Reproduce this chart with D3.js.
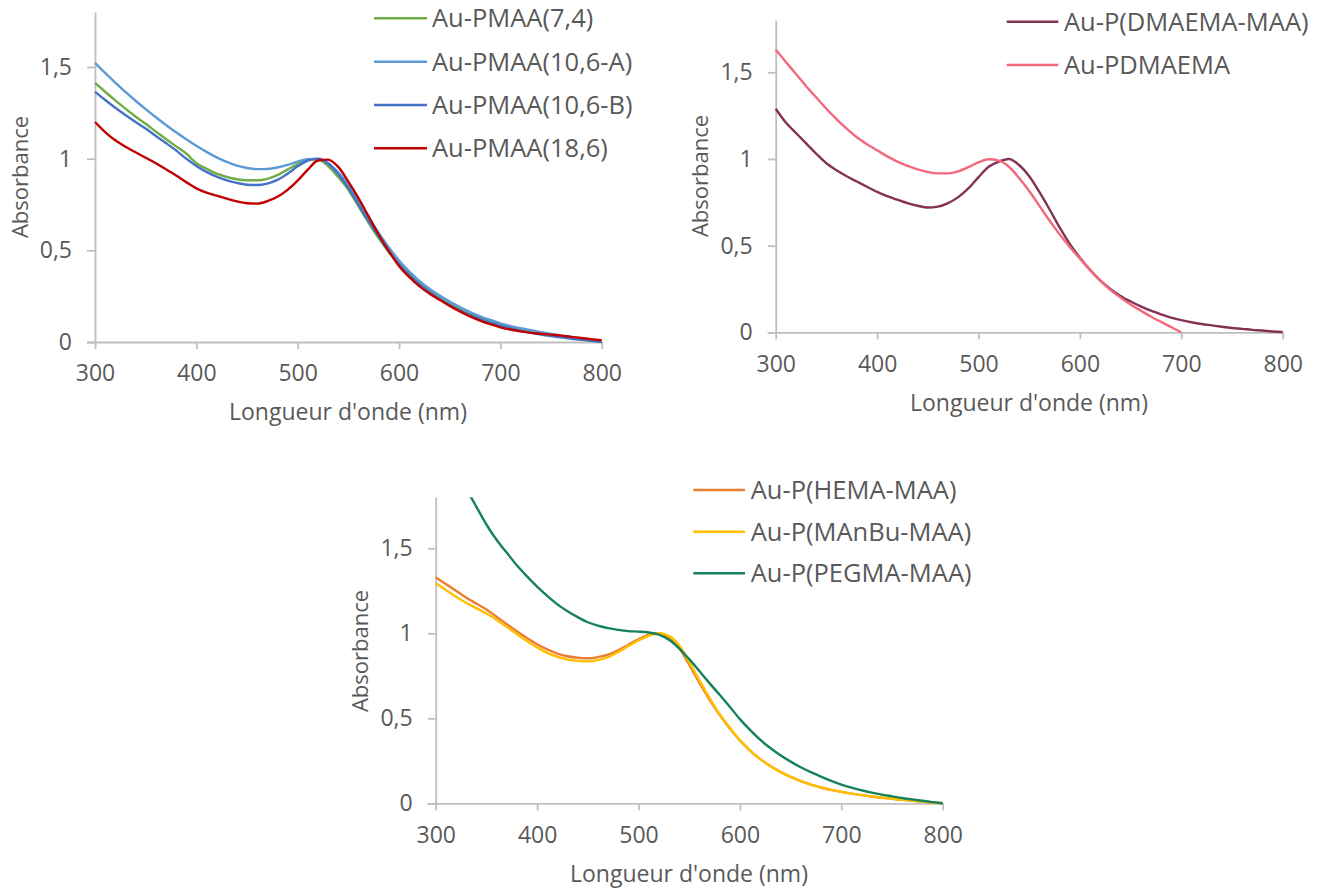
<!DOCTYPE html>
<html><head><meta charset="utf-8">
<script src="https://cdn.jsdelivr.net/npm/d3@7"></script>
<style>
body{margin:0;background:#fff;}
text{font-family:"Open Sans",sans-serif;fill:#595959;}
</style></head>
<body>
<svg id="c" width="1329" height="893"></svg>
<script>
// ---- data ----
const wavelengths = d3.range(300, 801, 10);
const xTicks = [300, 400, 500, 600, 700, 800];
const yTicks = [0, 0.5, 1, 1.5];
const xTitle = "Longueur d'onde (nm)";
const yTitle = "Absorbance";

// Panel 1
const pmaa74 = [1.413,1.365,1.318,1.273,1.23,1.19,1.148,1.107,1.067,1.028,0.975,0.945,0.918,0.9,0.888,0.882,0.882,0.89,0.91,0.94,0.97,0.995,0.995,0.96,0.9,0.83,0.74,0.65,0.565,0.49,0.425,0.37,0.32,0.278,0.24,0.207,0.178,0.153,0.13,0.11,0.093,0.078,0.065,0.055,0.046,0.038,0.03,0.023,0.015,0.008,0.003];
const pmaa106A = [1.523,1.468,1.415,1.364,1.316,1.27,1.226,1.184,1.144,1.106,1.07,1.037,1.007,0.982,0.962,0.949,0.943,0.944,0.952,0.966,0.984,0.997,0.999,0.975,0.925,0.855,0.77,0.68,0.595,0.515,0.445,0.385,0.333,0.29,0.253,0.22,0.19,0.163,0.14,0.12,0.102,0.087,0.075,0.064,0.054,0.044,0.035,0.026,0.018,0.01,0.005];
const pmaa106B = [1.364,1.32,1.278,1.238,1.2,1.164,1.124,1.085,1.045,1.0,0.96,0.928,0.902,0.882,0.868,0.858,0.856,0.864,0.884,0.918,0.958,0.99,1.0,0.975,0.915,0.84,0.75,0.66,0.575,0.495,0.425,0.365,0.315,0.272,0.235,0.202,0.172,0.147,0.125,0.105,0.088,0.074,0.061,0.05,0.04,0.032,0.025,0.018,0.012,0.006,0.0];
const pmaa186 = [1.2,1.145,1.1,1.065,1.035,1.005,0.975,0.942,0.908,0.872,0.838,0.815,0.798,0.782,0.767,0.757,0.755,0.768,0.792,0.83,0.88,0.94,0.99,0.995,0.955,0.875,0.785,0.685,0.585,0.495,0.415,0.355,0.305,0.265,0.23,0.197,0.167,0.14,0.117,0.097,0.08,0.068,0.058,0.05,0.045,0.04,0.035,0.028,0.022,0.015,0.01];

// Panel 2
const dmaemaMaa = [1.29,1.21,1.15,1.09,1.03,0.975,0.935,0.9,0.87,0.84,0.81,0.785,0.765,0.745,0.73,0.72,0.725,0.745,0.78,0.83,0.895,0.955,0.985,1.0,0.965,0.9,0.81,0.71,0.605,0.51,0.43,0.36,0.3,0.25,0.21,0.178,0.15,0.125,0.104,0.085,0.07,0.058,0.048,0.04,0.032,0.025,0.02,0.014,0.01,0.005,0.002];
const pdmaema = [1.63,1.56,1.49,1.42,1.355,1.29,1.23,1.175,1.125,1.085,1.05,1.015,0.985,0.96,0.94,0.925,0.917,0.917,0.928,0.953,0.98,0.998,0.99,0.955,0.89,0.815,0.73,0.645,0.565,0.492,0.425,0.36,0.298,0.245,0.2,0.16,0.125,0.091,0.06,0.03,0.0];

// Panel 3
const hemaMaa = [1.33,1.29,1.25,1.21,1.175,1.14,1.097,1.054,1.012,0.972,0.936,0.905,0.881,0.865,0.856,0.853,0.86,0.875,0.9,0.933,0.965,0.99,1.0,0.975,0.915,0.815,0.71,0.61,0.52,0.44,0.37,0.31,0.26,0.22,0.185,0.155,0.13,0.11,0.093,0.079,0.067,0.057,0.048,0.04,0.033,0.027,0.021,0.015,0.01,0.005,0.0];
const manbuMaa = [1.295,1.255,1.215,1.18,1.148,1.116,1.08,1.038,0.996,0.955,0.917,0.885,0.862,0.846,0.838,0.835,0.842,0.86,0.89,0.925,0.958,0.985,1.0,0.985,0.93,0.83,0.725,0.62,0.525,0.445,0.372,0.31,0.26,0.22,0.185,0.155,0.13,0.11,0.093,0.079,0.067,0.057,0.048,0.04,0.033,0.027,0.021,0.015,0.01,0.005,0.0];
const pegmaMaa = [2.1,2.0,1.93,1.85,1.745,1.64,1.55,1.475,1.4,1.335,1.275,1.22,1.17,1.13,1.095,1.065,1.045,1.03,1.02,1.013,1.01,1.005,0.992,0.962,0.912,0.848,0.778,0.707,0.638,0.568,0.495,0.432,0.374,0.325,0.282,0.245,0.212,0.183,0.157,0.132,0.11,0.092,0.077,0.063,0.051,0.041,0.031,0.023,0.015,0.007,0.0];

// ---- layout / styles ----
const panels = [
  {x0:95, x1:601.7, y0:342, y1:12, titleX:348, titleY:420, yTitleX:20, yTitleY:177,
   legend:{lx0:374, lx1:427, tx:432, ys:[18.3,61.7,105,148.3]},
   series:[
     {name:"Au-PMAA(7,4)", values:pmaa74, color:"#70ad47"},
     {name:"Au-PMAA(10,6-A)", values:pmaa106A, color:"#5b9bd5"},
     {name:"Au-PMAA(10,6-B)", values:pmaa106B, color:"#4472c4"},
     {name:"Au-PMAA(18,6)", values:pmaa186, color:"#c00000"}]},
  {x0:775.7, x1:1282.7, y0:332.3, y1:20.3, titleX:1029, titleY:410.7, yTitleX:700, yTitleY:176,
   legend:{lx0:1006.7, lx1:1058.3, tx:1064, ys:[21.7,65]},
   series:[
     {name:"Au-P(DMAEMA-MAA)", values:dmaemaMaa, color:"#843254"},
     {name:"Au-PDMAEMA", values:pdmaema, color:"#f4687e"}]},
  {x0:435.7, x1:942.7, y0:803.3, y1:497.3, titleX:689, titleY:881.7, yTitleX:360.5, yTitleY:651,
   legend:{lx0:693.3, lx1:745, tx:750.7, ys:[490,531.7,573.3]},
   series:[
     {name:"Au-P(HEMA-MAA)", values:hemaMaa, color:"#ed7d31"},
     {name:"Au-P(MAnBu-MAA)", values:manbuMaa, color:"#ffc000"},
     {name:"Au-P(PEGMA-MAA)", values:pegmaMaa, color:"#15825a"}]}
];

const svg = d3.select("#c");
const fmt = d => String(d).replace(".", ",");
const axisColor = "#bfbfbf";

panels.forEach((p, i) => {
  const x = d3.scaleLinear().domain([300, 800]).range([p.x0, p.x1]);
  const y = d3.scaleLinear().domain([0, 1.8]).range([p.y0, p.y1]);
  const g = svg.append("g");

  const clipId = "clip" + i;
  g.append("clipPath").attr("id", clipId).append("rect")
    .attr("x", p.x0 - 2).attr("y", p.y1).attr("width", p.x1 - p.x0 + 4).attr("height", p.y0 - p.y1 + 2);

  // axes
  const xa = g.append("g").attr("transform", `translate(0,${p.y0})`)
    .call(d3.axisBottom(x).tickValues(xTicks).tickSize(7).tickSizeOuter(0).tickPadding(16).tickFormat(d3.format("d")));
  const ya = g.append("g").attr("transform", `translate(${p.x0},0)`)
    .call(d3.axisLeft(y).tickValues(yTicks).tickSize(8).tickSizeOuter(0).tickPadding(15).tickFormat(fmt));
  [xa, ya].forEach(a => {
    a.selectAll("path,line").attr("stroke", axisColor).attr("stroke-width", 1.8);
    a.selectAll("text").style("font-size", "23px").style("font-family", '"Open Sans",sans-serif').attr("fill", "#595959");
  });
  xa.select(".domain").attr("d", `M${p.x0 - 8},0.5H${p.x1}`);

  // lines
  const line = d3.line().x((d, k) => x(wavelengths[k])).y(d => y(d)).curve(d3.curveMonotoneX);
  const lg = g.append("g").attr("clip-path", `url(#${clipId})`);
  p.series.forEach(s => {
    lg.append("path").datum(s.values).attr("d", line)
      .attr("fill", "none").attr("stroke", s.color).attr("stroke-width", 2.4)
      .attr("stroke-linejoin", "round");
  });

  // titles
  g.append("text").attr("x", p.titleX).attr("y", p.titleY).attr("text-anchor", "middle")
    .style("font-size", "23px").text(xTitle);
  g.append("text").attr("transform", `translate(${p.yTitleX},${p.yTitleY}) rotate(-90)`)
    .attr("text-anchor", "middle").attr("dy", "0.35em").style("font-size", "22px").text(yTitle);

  // legend
  p.series.forEach((s, k) => {
    const ly = p.legend.ys[k];
    g.append("line").attr("x1", p.legend.lx0).attr("x2", p.legend.lx1).attr("y1", ly).attr("y2", ly)
      .attr("stroke", s.color).attr("stroke-width", 2.6);
    g.append("text").attr("x", p.legend.tx).attr("y", ly).attr("dy", "0.36em")
      .style("font-size", "25.5px").text(s.name);
  });
});
</script>
</body></html>
